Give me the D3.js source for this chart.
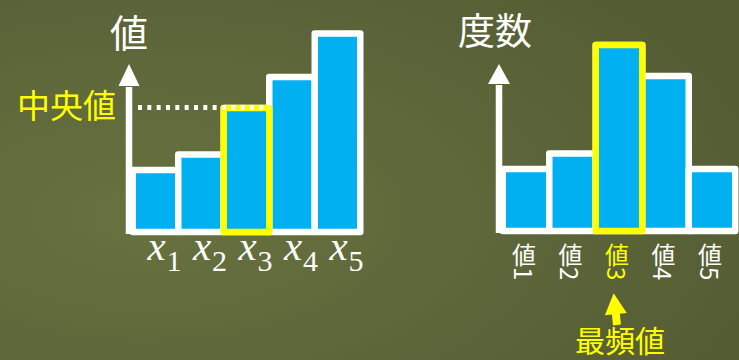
<!DOCTYPE html>
<html>
<head>
<meta charset="utf-8">
<script src="https://cdn.jsdelivr.net/npm/d3@7"></script>
<style>
html,body{margin:0;padding:0;background:#5b633a;}
svg{display:block;}
</style>
</head>
<body>
<svg id="chart" width="739" height="360"></svg>
<script>
// ---- data ----
const leftCategories = ["x1", "x2", "x3", "x4", "x5"];
const leftValues = [2, 2.5, 4, 5, 6.4];
const leftTitle = "値";
const medianLabel = "中央値";
const medianIndex = 2;

const rightCategories = ["値1", "値2", "値3", "値4", "値5"];
const rightValues = [2, 2.5, 6, 5, 2];
const rightTitle = "度数";
const modeLabel = "最頻値";
const modeIndex = 2;

// ---- styles ----
const BLUE = "#00b0f0", WHITE = "#ffffff", YELLOW = "#ffff00";
const CJK = "'Noto Sans CJK JP','Noto Sans CJK SC',sans-serif";
const SW = 6.5;

const svg = d3.select("#chart");
const defs = svg.append("defs");
const grad = defs.append("radialGradient").attr("id", "bg")
  .attr("cx", "20%").attr("cy", "60%").attr("r", "90%");
grad.append("stop").attr("offset", "0%").attr("stop-color", "#68723f");
grad.append("stop").attr("offset", "60%").attr("stop-color", "#5c6539");
grad.append("stop").attr("offset", "100%").attr("stop-color", "#545c33");
svg.append("rect").attr("width", 739).attr("height", 360).attr("fill", "url(#bg)");

function drawAxisArrow(g, x, yBottom, yBase, yTip, half) {
  g.append("line").attr("x1", x).attr("x2", x).attr("y1", yBottom).attr("y2", yBase + 1)
    .attr("stroke", WHITE).attr("stroke-width", 6.5);
  g.append("path")
    .attr("d", d3.line()([[x, yTip], [x - half, yBase], [x + half, yBase]]) + "Z")
    .attr("fill", WHITE);
}

// ---------- LEFT CHART ----------
const xL = d3.scaleBand().domain(leftCategories).range([132.75, 360.25]).padding(0);
const yL = d3.scaleLinear().domain([0, 7]).range([232, 15]);
const gL = svg.append("g");

drawAxisArrow(gL, 129, 234, 86, 64, 10.5);

gL.selectAll("rect.bar").data(leftCategories).join("rect")
  .attr("class", "bar")
  .attr("x", d => xL(d))
  .attr("y", (d, i) => yL(leftValues[i]))
  .attr("width", xL.bandwidth())
  .attr("height", (d, i) => yL(0) - yL(leftValues[i]))
  .attr("fill", BLUE)
  .attr("stroke", WHITE)
  .attr("stroke-width", SW)
  .attr("stroke-linejoin", "round");

// highlight median bar
gL.append("rect")
  .attr("x", xL(leftCategories[medianIndex]))
  .attr("y", yL(leftValues[medianIndex]))
  .attr("width", xL.bandwidth())
  .attr("height", yL(0) - yL(leftValues[medianIndex]))
  .attr("fill", BLUE).attr("stroke", YELLOW).attr("stroke-width", SW)
  .attr("stroke-linejoin", "round");

// dotted median line
gL.append("line")
  .attr("x1", 138)
  .attr("x2", xL(leftCategories[medianIndex]) + xL.bandwidth())
  .attr("y1", yL(leftValues[medianIndex]) - 0.5)
  .attr("y2", yL(leftValues[medianIndex]) - 0.5)
  .attr("stroke", WHITE).attr("stroke-width", 5)
  .attr("stroke-dasharray", "4 5.33");

gL.append("text").attr("x", 116).attr("y", 104)
  .attr("text-anchor", "end").attr("dominant-baseline", "central")
  .attr("font-family", CJK).attr("font-size", 33).attr("fill", YELLOW)
  .text(medianLabel);

gL.append("text").attr("x", 129).attr("y", 30)
  .attr("text-anchor", "middle").attr("dominant-baseline", "central")
  .attr("font-family", CJK).attr("font-size", 38).attr("fill", WHITE)
  .text(leftTitle);

// x labels (x with subscript)
const lbl = gL.selectAll("text.xl").data(leftCategories).join("text")
  .attr("class", "xl")
  .attr("x", d => xL(d) + xL.bandwidth() / 2 + 9)
  .attr("y", 260)
  .attr("text-anchor", "middle")
  .attr("font-family", "'Liberation Serif','DejaVu Serif',serif")
  .attr("fill", WHITE);
lbl.append("tspan").attr("font-style", "italic").attr("font-size", 41).text(d => d[0]);
lbl.append("tspan").attr("font-size", 30).attr("dx", 1).attr("dy", 11).text(d => d.slice(1));

// ---------- RIGHT CHART ----------
const xR = d3.scaleBand().domain(rightCategories).range([502.75, 735.25]).padding(0);
const yR = d3.scaleLinear().domain([0, 7]).range([231, 14]);
const gR = svg.append("g");

drawAxisArrow(gR, 499, 233, 84, 64, 11);

gR.selectAll("rect.bar").data(rightCategories).join("rect")
  .attr("class", "bar")
  .attr("x", d => xR(d))
  .attr("y", (d, i) => yR(rightValues[i]))
  .attr("width", xR.bandwidth())
  .attr("height", (d, i) => yR(0) - yR(rightValues[i]))
  .attr("fill", BLUE)
  .attr("stroke", WHITE)
  .attr("stroke-width", SW)
  .attr("stroke-linejoin", "round");

gR.append("rect")
  .attr("x", xR(rightCategories[modeIndex]))
  .attr("y", yR(rightValues[modeIndex]))
  .attr("width", xR.bandwidth())
  .attr("height", yR(0) - yR(rightValues[modeIndex]))
  .attr("fill", BLUE).attr("stroke", YELLOW).attr("stroke-width", SW)
  .attr("stroke-linejoin", "round");

gR.append("text").attr("x", 495).attr("y", 28.5)
  .attr("text-anchor", "middle").attr("dominant-baseline", "central")
  .attr("font-family", CJK).attr("font-size", 37).attr("fill", WHITE)
  .text(rightTitle);

// vertical category labels
gR.selectAll("text.xr").data(rightCategories).join("text")
  .attr("class", "xr")
  .attr("x", d => xR(d) + xR.bandwidth() / 2 - 2)
  .attr("y", 243)
  .attr("text-anchor", "start")
  .style("writing-mode", "vertical-rl")
  .attr("font-family", CJK).attr("font-size", 24)
  .attr("fill", (d, i) => i === modeIndex ? YELLOW : WHITE)
  .text(d => d);

// mode arrow
const ax = xR(rightCategories[modeIndex]) + xR.bandwidth() / 2 - 2;
const arrowG = gR.append("g").attr("transform", `rotate(-6, ${ax}, 325)`);
arrowG.append("path")
  .attr("d", d3.line()([[ax, 293], [ax - 11, 314], [ax + 11, 314]]) + "Z")
  .attr("fill", YELLOW);
arrowG.append("rect").attr("x", ax - 4).attr("y", 312).attr("width", 8).attr("height", 13)
  .attr("fill", YELLOW);

gR.append("text").attr("x", 620).attr("y", 339)
  .attr("text-anchor", "middle").attr("dominant-baseline", "central")
  .attr("font-family", CJK).attr("font-size", 30).attr("fill", YELLOW)
  .text(modeLabel);
</script>
</body>
</html>
